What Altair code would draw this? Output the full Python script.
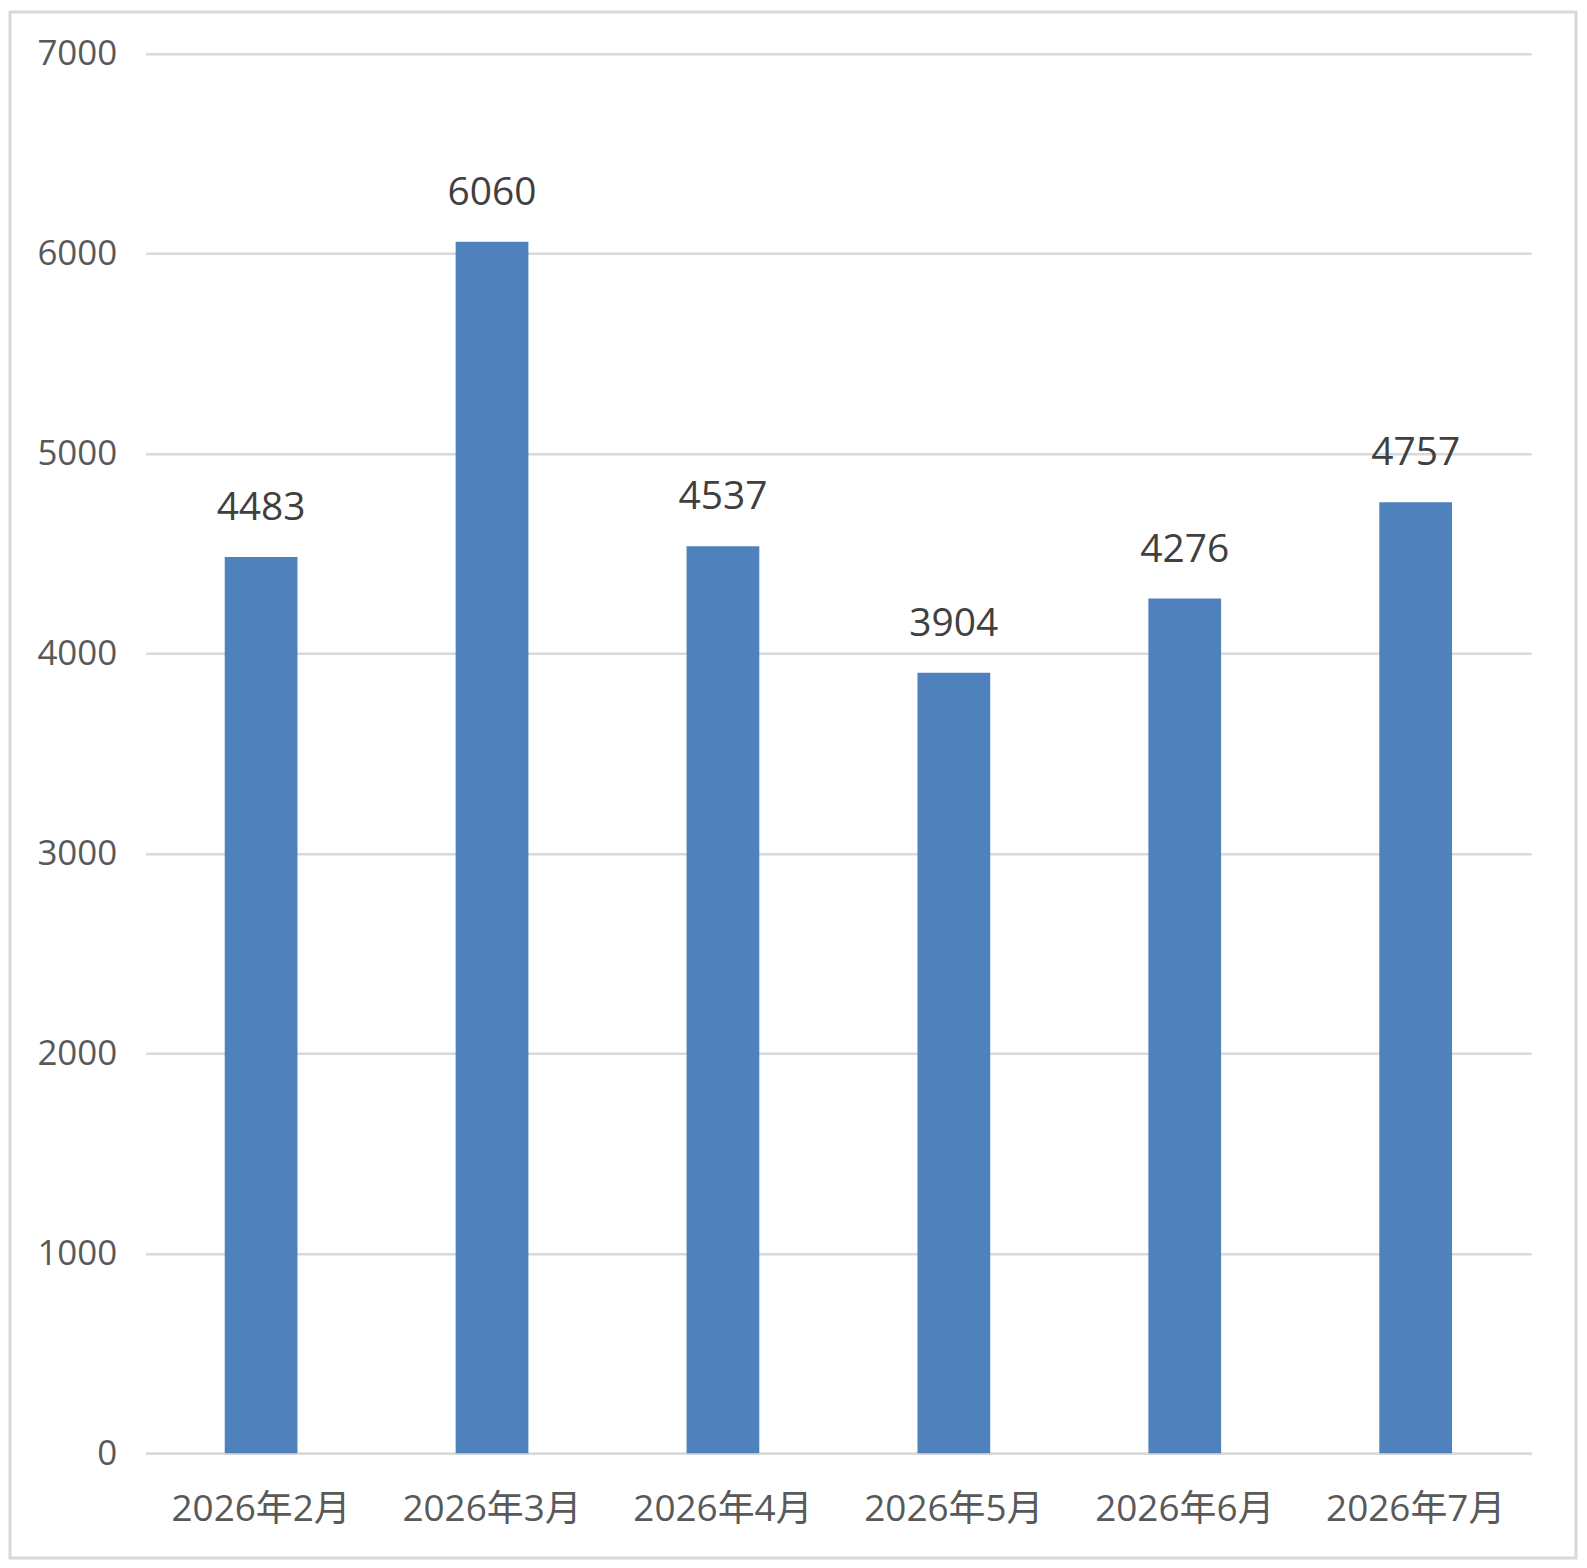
import altair as alt
import pandas as pd

months = ["2026年2月", "2026年3月", "2026年4月", "2026年5月", "2026年6月", "2026年7月"]
values = [4483, 6060, 4537, 3904, 4276, 4757]
y_ticks = [0, 1000, 2000, 3000, 4000, 5000, 6000, 7000]

df = pd.DataFrame({"month": months, "value": values})
frame_df = pd.DataFrame({"a": [0]})

W, H = 1389, 1403
FONT = "Open Sans, Noto Sans CJK SC, sans-serif"

x_enc = alt.X(
    "month:N",
    sort=months,
    scale=alt.Scale(paddingInner=0.685, paddingOuter=0.3425),
    axis=alt.Axis(
        title=None,
        labelAngle=0,
        ticks=False,
        tickSize=0,
        labelPadding=67,
        labelBaseline="alphabetic",
        labelFontSize=37,
        labelFont=FONT,
        labelColor="#595959",
        domainColor="#d9d9d9",
        domainWidth=2.5,
        grid=False,
    ),
)
y_enc = alt.Y(
    "value:Q",
    scale=alt.Scale(domain=[0, 7000], nice=False),
    axis=alt.Axis(
        title=None,
        values=y_ticks,
        format="d",
        ticks=False,
        tickSize=0,
        labelPadding=29,
        labelFontSize=35,
        labelFont=FONT,
        labelColor="#595959",
        domain=False,
        grid=True,
        gridColor="#d9d9d9",
        gridWidth=2.5,
    ),
)

frame = alt.Chart(frame_df).mark_rect(
    fill=None, stroke="#d9d9d9", strokeWidth=3
).encode(
    x=alt.value(-136), x2=alt.value(1434), y=alt.value(-42), y2=alt.value(1508)
)

bars = alt.Chart(df).mark_bar(color="#4f81bd").encode(x=x_enc, y=y_enc)

labels = alt.Chart(df).mark_text(
    baseline="alphabetic", dy=-37, fontSize=39, font=FONT, color="#404040"
).encode(x=alt.X("month:N", sort=months), y="value:Q", text="value:Q")

chart = alt.layer(frame, bars, labels).properties(
    width=W,
    height=H,
    autosize=alt.AutoSizeParams(type="none"),
    padding={"left": 138, "top": 44, "right": 48, "bottom": 110},
    background="white",
).configure_view(stroke=None)

chart.save("out.html", embed_options={"renderer": "svg", "actions": False})
